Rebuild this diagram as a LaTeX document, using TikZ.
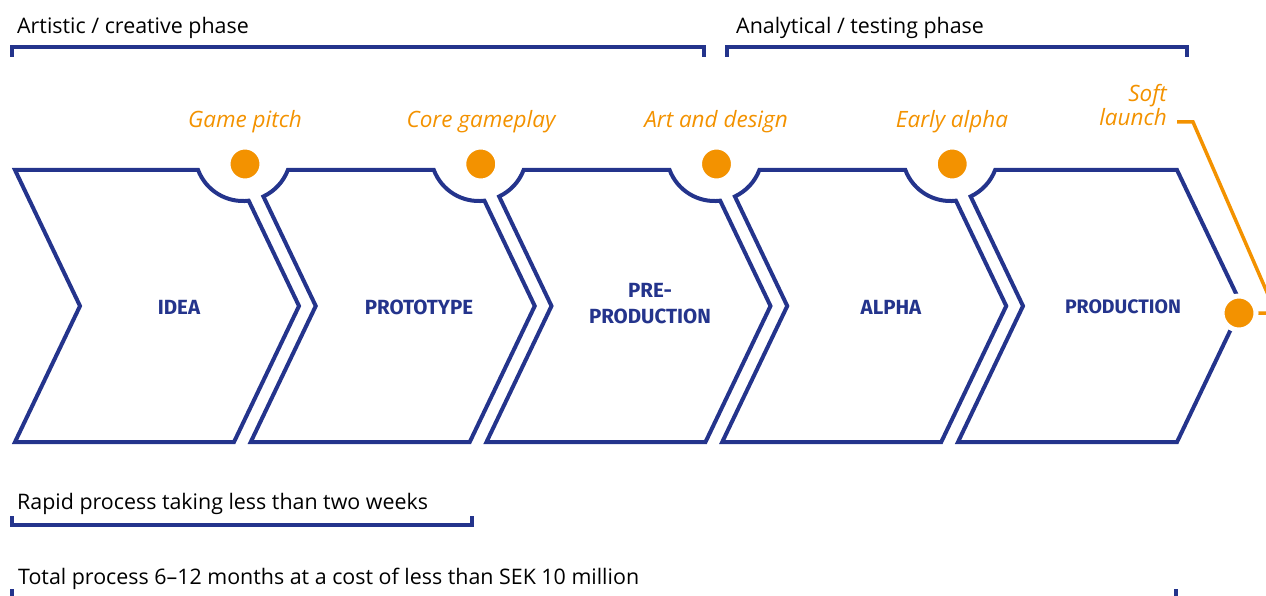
\documentclass[tikz,border=0pt]{standalone}
\usepackage{fontspec}
\setmainfont{Open Sans}
\newfontfamily\stagefont{Fira Sans}
\definecolor{navy}{RGB}{36,52,140}
\definecolor{amber}{RGB}{243,146,0}

\begin{document}
\begin{tikzpicture}[x=1pt,y=-1pt,
  outline/.style={draw=navy, line width=4pt, line join=miter},
  bracketline/.style={draw=navy, line width=3.5pt, line join=miter},
  milestone/.style={circle, fill=amber, draw=white, line width=5pt, minimum size=34pt, inner sep=0pt},
  stagelabel/.style={font=\stagefont\bfseries\fontsize{20.5}{26}\selectfont, text=navy, align=center, inner sep=0pt},
  milestonelabel/.style={font=\itshape\fontsize{22.5}{24}\selectfont, text=amber, inner sep=0pt},
  phaselabel/.style={font=\fontsize{21.4}{24}\selectfont, anchor=base west, inner sep=0pt}
]
\useasboundingbox (0,0) rectangle (1266,596);
\clip (0,0) rectangle (1266,596);

% phase brackets above
\node[phaselabel] (artistic) at (17,33.5) {Artistic / creative phase};
\node[phaselabel] (analytical) at (736,33.5) {Analytical / testing phase};
\draw[bracketline] (12,57) -- (12,47) -- (704,47) -- (704,57);
\draw[bracketline] (727,57) -- (727,47) -- (1187,47) -- (1187,57);

% chevrons; each notch is a circle of radius 48 centred 153 below the top
\draw[outline] (15,170) -- (198.1,170) arc[start angle=159.3, end angle=83.2, radius=48]
  -- (299,306) -- (234,442) -- (15,442) -- (80,306) -- cycle;
\foreach \k in {1,2,3}{
  \pgfmathsetmacro\o{235.75*\k}
  \draw[outline] (27.64+\o,196.45) arc[start angle=64.85, end angle=20.74, radius=48]
    -- (198.1+\o,170) arc[start angle=159.3, end angle=83.2, radius=48]
    -- (299+\o,306) -- (234+\o,442) -- (15+\o,442) -- (80+\o,306) -- cycle;
}
\draw[outline] (970.64,196.45) arc[start angle=64.85, end angle=20.74, radius=48]
  -- (1177,170) -- (1242,306) -- (1177,442) -- (958,442) -- (1023,306) -- cycle;

% stage names
\node[stagelabel] (idea) at (179,307) {IDEA};
\node[stagelabel] (prototype) at (419,307) {PROTOTYPE};
\node[stagelabel] (preprod) at (650,304) {PRE-\\PRODUCTION};
\node[stagelabel] (alpha) at (891,307) {ALPHA};
\node[stagelabel, font=\stagefont\bfseries\fontsize{19.5}{26}\selectfont] (production) at (1123,307) {PRODUCTION};

% soft launch leader line
\coordinate (sl) at (1177,122);
\coordinate (m5c) at (1239,313);
\draw[amber, line width=3.5pt, line join=miter] (sl) -- (1193,122) -- (1276,313) -- (m5c);

% milestones
\node[milestone] (m1) at (245,164) {};
\node[milestone] (m2) at (480.75,164) {};
\node[milestone] (m3) at (716.5,164) {};
\node[milestone] (m4) at (952.25,164) {};
\node[milestone] (m5) at (m5c) {};

\node[milestonelabel, anchor=base] (pitch) at (245,127.5) {Game pitch};
\node[milestonelabel, anchor=base] (core) at (481,127.5) {Core gameplay};
\node[milestonelabel, anchor=base] (art) at (716,127.5) {Art and design};
\node[milestonelabel, anchor=base] (early) at (952,127.5) {Early alpha};
\node[milestonelabel, anchor=south east, align=right] (soft) at (1167,125.5) {Soft\\launch};

% duration brackets below
\node[phaselabel] (rapid) at (17,509) {Rapid process taking less than two weeks};
\draw[bracketline] (12,516) -- (12,525) -- (472,525) -- (472,516);
\node[phaselabel] (total) at (18,584) {Total process 6–12 months at a cost of less than SEK 10 million};
\draw[bracketline] (12,589) -- (12,600) -- (1176,600) -- (1176,589);
\end{tikzpicture}
\end{document}
